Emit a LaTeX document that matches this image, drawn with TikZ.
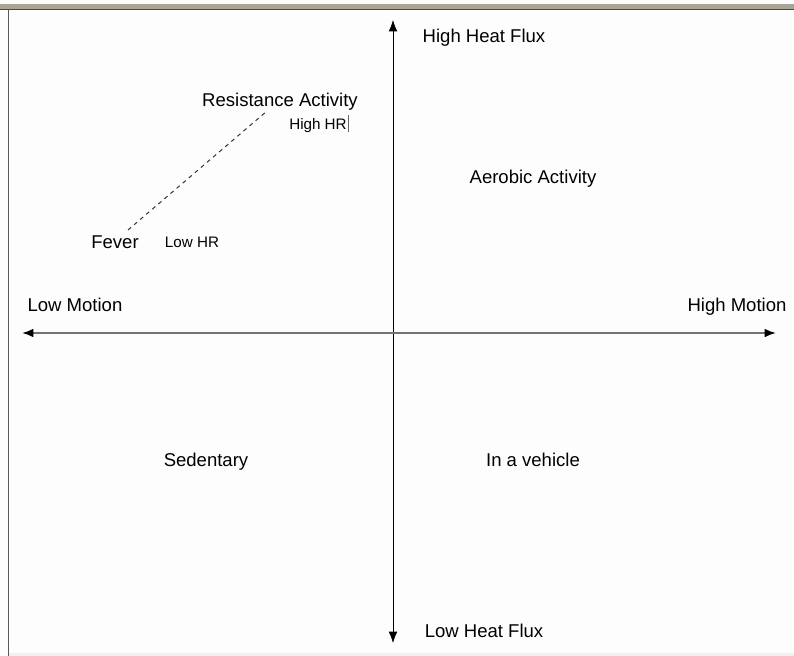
\documentclass[tikz,border=0pt]{standalone}
\usepackage{fontspec}
\setmainfont{Liberation Sans}
\usetikzlibrary{arrows.meta}
\definecolor{framegray}{RGB}{168,165,148}
\definecolor{paper}{RGB}{253,253,253}
\tikzset{
  lbl/.style={anchor=base,inner sep=0pt,font=\fontsize{13.9}{16}\selectfont},
  smalllbl/.style={anchor=base,inner sep=0pt,font=\fontsize{11.4}{13}\selectfont},
  axis/.style={-{Latex[length=8.5pt,width=6.5pt,black]}}
}
\begin{document}
\begin{tikzpicture}[x=0.75pt,y=-0.75pt]
		\useasboundingbox (0,0) rectangle (794,656);
		\fill[paper] (0,0) rectangle (794,656);
		\fill[framegray] (0,4) rectangle (794,10);
		\draw[black!70,line width=1pt] (0,9.5)--(794,9.5);
		\draw[black!65,line width=1.4pt] (8.5,10)--(8.5,656);
		\fill[black!6] (9,653) rectangle (794,656);
		% axes
		\coordinate (origin) at (393,333);
		\coordinate (top) at (393,20);
		\coordinate (bottom) at (393,643);
		\coordinate (left) at (22,333);
		\coordinate (right) at (776,333);
		\draw[axis,line width=0.55pt] (origin)--(top);
		\draw[axis,line width=0.55pt] (origin)--(bottom);
		\draw[axis,black!55,line width=1.4pt] (origin)--(left);
		\draw[axis,black!55,line width=1.4pt] (origin)--(right);
		% axis labels
		\node[lbl] (highflux) at (484,43) {High Heat Flux};
		\node[lbl] (lowflux) at (484,637) {Low Heat Flux};
		\node[lbl] (lowmotion) at (75,312) {Low Motion};
		\node[lbl] (highmotion) at (737,312) {High Motion};
		% quadrants
		\node[lbl] (aerobic) at (533,184) {Aerobic Activity};
		\node[lbl] (sedentary) at (206,467) {Sedentary};
		\node[lbl] (vehicle) at (533,467) {In a vehicle};
		\node[lbl] (resist) at (280,107) {Resistance Activity};
		\node[smalllbl] (highhr) at (318,130) {High HR};
		\node[lbl] (fever) at (115,249) {Fever};
		\node[smalllbl] (lowhr) at (192,248) {Low HR};
		\draw[black!60,line width=0.6pt] (348.5,115)--(348.5,132);
		\coordinate (feverend) at (128,230);
		\coordinate (resistend) at (267,111);
		\draw[dashed,black!80,line width=0.75pt] (feverend)--(resistend);
\end{tikzpicture}
\end{document}
